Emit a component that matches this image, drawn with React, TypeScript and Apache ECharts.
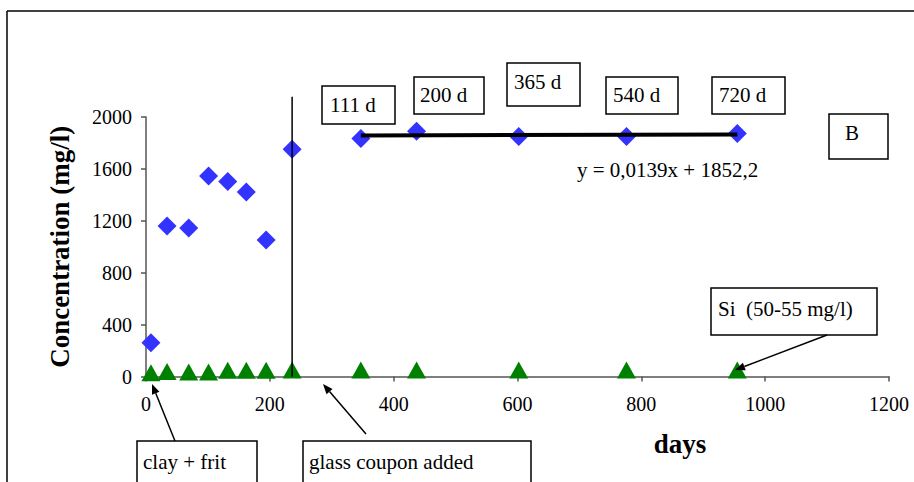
import React, { useEffect, useRef } from "react";
import * as echarts from "echarts";

const days = [8, 34, 69, 101, 132, 162, 194, 236, 347, 437, 602, 776, 955];
const totalConc = [260, 1160, 1145, 1546, 1502, 1422, 1052, 1752, 1834, 1890, 1849, 1849, 1872];
const siConc = [28, 38, 35, 35, 48, 48, 48, 50, 50, 50, 50, 50, 50];
const xTicks = { min: 0, max: 1200, interval: 200 };
const yTicks = { min: 0, max: 2000, interval: 400 };
const couponDay = 236;
const couponLineTop = 2156;
const trendSlope = 0.0139;
const trendIntercept = 1852.2;
const trendRange = [347, 955];
const dayLabels = ["111 d", "200 d", "365 d", "540 d", "720 d"];

const FONT = "Liberation Serif, Times New Roman, serif";

function arrow(x1: number, y1: number, x2: number, y2: number) {
  const dx = x2 - x1;
  const dy = y2 - y1;
  const len = Math.sqrt(dx * dx + dy * dy);
  const ux = dx / len;
  const uy = dy / len;
  const nx = -uy;
  const ny = ux;
  const hl = 10;
  const hw = 4;
  const bx = x2 - ux * hl;
  const by = y2 - uy * hl;
  return [
    {
      type: "line",
      shape: { x1, y1, x2: bx, y2: by },
      style: { stroke: "#000", lineWidth: 1.5 },
      z: 100,
    },
    {
      type: "polygon",
      shape: {
        points: [
          [x2, y2],
          [bx + nx * hw, by + ny * hw],
          [bx - nx * hw, by - ny * hw],
        ],
      },
      style: { fill: "#000" },
      z: 100,
    },
  ];
}

function label(text: string, x: number, y: number, size = 21, weight = "normal", align = "left") {
  return {
    type: "text",
    x,
    y,
    style: {
      text,
      fill: "#000",
      fontFamily: FONT,
      fontSize: size,
      fontWeight: weight,
      align,
      verticalAlign: "middle",
    },
    z: 91,
  };
}

function box(x: number, y: number, w: number, h: number, text: string, tx: number, ty: number) {
  return [
    {
      type: "rect",
      shape: { x, y, width: w, height: h },
      style: { fill: "#fff", stroke: "#000", lineWidth: 1.5 },
      z: 90,
    },
    label(text, tx, ty),
  ];
}

export default function App() {
  const ref = useRef<HTMLDivElement>(null);

  useEffect(() => {
    document.body.style.margin = "0";
    if (!ref.current) return;
    const chart = echarts.init(ref.current, undefined, { renderer: "svg" });

    const totalData = days.map((d, i) => [d, totalConc[i]]);
    const siData = days.map((d, i) => [d, siConc[i]]);
    const trendData = trendRange.map((d) => [d, trendSlope * d + trendIntercept]);

    const graphics: any[] = [
      {
        type: "line",
        shape: { x1: 7, y1: 11, x2: 914, y2: 11 },
        style: { stroke: "#000", lineWidth: 1.5 },
      },
      {
        type: "line",
        shape: { x1: 7, y1: 11, x2: 7, y2: 482 },
        style: { stroke: "#000", lineWidth: 1.5 },
      },
      ...box(322, 86, 73, 38, dayLabels[0], 330, 105),
      ...box(414, 77, 70, 37, dayLabels[1], 420, 95),
      ...box(507, 63, 73, 43, dayLabels[2], 514, 82),
      ...box(606, 77, 72, 37, dayLabels[3], 613, 95),
      ...box(712, 77, 73, 37, dayLabels[4], 719, 95),
      ...box(829, 114, 59, 45, "B", 845, 133),
      ...box(711, 288, 166, 47, "Si  (50-55 mg/l)", 718, 309),
      ...box(137, 441, 120, 50, "clay + frit", 143, 462),
      ...box(303, 441, 228, 50, "glass coupon added", 309, 462),
      label("y = 0,0139x + 1852,2", 577, 170),
      label("days", 680, 444, 27, "bold", "center"),
      ...arrow(827, 335, 735, 370),
      ...arrow(175, 441, 152, 384),
      ...arrow(366, 434, 323, 384),
    ];

    chart.setOption({
      animation: false,
      backgroundColor: "#fff",
      grid: { left: 146, right: 25, top: 117, bottom: 105.5, containLabel: false },
      xAxis: {
        type: "value",
        min: xTicks.min,
        max: xTicks.max,
        interval: xTicks.interval,
        axisLine: { show: true, onZero: false, lineStyle: { color: "#555", width: 1.5 } },
        axisTick: { show: true, inside: false, length: 5, lineStyle: { color: "#555", width: 1.5 } },
        axisLabel: {
          fontFamily: FONT,
          fontSize: 20,
          color: "#000",
          margin: 17,
          formatter: (v: number) => String(v),
        },
        splitLine: { show: false },
      },
      yAxis: {
        type: "value",
        min: yTicks.min,
        max: yTicks.max,
        interval: yTicks.interval,
        name: "Concentration (mg/l)",
        nameLocation: "middle",
        nameGap: 73,
        nameTextStyle: { fontFamily: FONT, fontSize: 27, fontWeight: "bold", color: "#000" },
        axisLine: { show: true, lineStyle: { color: "#555", width: 1.5 } },
        axisTick: { show: true, inside: false, length: 5, lineStyle: { color: "#555", width: 1.5 } },
        axisLabel: {
          fontFamily: FONT,
          fontSize: 20,
          color: "#000",
          margin: 14,
          formatter: (v: number) => String(v),
        },
        splitLine: { show: false },
      },
      series: [
        {
          type: "scatter",
          name: "total",
          data: totalData,
          symbol: "diamond",
          symbolSize: 19,
          itemStyle: { color: "#3333FF", opacity: 1 },
          z: 2,
        },
        {
          type: "scatter",
          name: "Si",
          data: siData,
          symbol: "triangle",
          symbolSize: [19, 17],
          itemStyle: { color: "#008000", opacity: 1 },
          z: 2,
        },
        {
          type: "line",
          name: "trend",
          data: trendData,
          showSymbol: false,
          symbol: "none",
          lineStyle: { color: "#000", width: 4 },
          z: 5,
        },
        {
          type: "line",
          name: "coupon",
          data: [
            [couponDay, 0],
            [couponDay, couponLineTop],
          ],
          clip: false,
          showSymbol: false,
          symbol: "none",
          lineStyle: { color: "#000", width: 1.5 },
          z: 5,
        },
      ],
      graphic: graphics,
    });

    return () => chart.dispose();
  }, []);

  return (
    <div
      ref={ref}
      style={{ position: "absolute", left: 0, top: 0, width: 914, height: 482 }}
    />
  );
}
